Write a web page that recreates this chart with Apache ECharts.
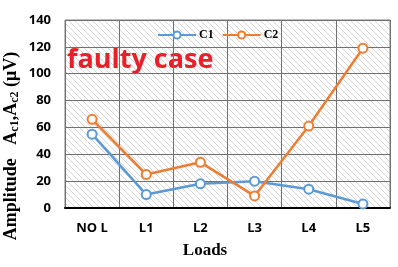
<!DOCTYPE html>
<html><head><meta charset="utf-8">
<script src="https://cdn.jsdelivr.net/npm/echarts@6/dist/echarts.min.js"></script>
<style>html,body{margin:0;padding:0;background:#fff}#c{width:398px;height:267px}</style>
</head><body><div id="c"></div>
<script>
const categories = ['NO L', 'L1', 'L2', 'L3', 'L4', 'L5'];
const c1Values = [55, 10, 18, 20, 14, 3];
const c2Values = [66, 25, 34, 9, 61, 119];
const yTicks = [0, 20, 40, 60, 80, 100, 120, 140];

const pc = document.createElement('canvas');
pc.width = 6; pc.height = 6;
const g = pc.getContext('2d');
g.fillStyle = '#ffffff'; g.fillRect(0,0,6,6);
g.strokeStyle = '#d6d6d6'; g.lineWidth = 1;
g.beginPath();
g.moveTo(-1,-1); g.lineTo(7,7);
g.moveTo(-4,2); g.lineTo(4,10);
g.moveTo(2,-4); g.lineTo(10,4);
g.stroke();

const chart = echarts.init(document.getElementById('c'));
const mk = (name, data, color) => ({
  name, type: 'line', data,
  symbol: 'circle', symbolSize: 9,
  lineStyle: {color, width: 2.5},
  itemStyle: {color: '#fff', borderColor: color, borderWidth: 2},
  z: 3
});
const serifBold = {fontFamily: 'Liberation Serif', fontWeight: 'bold', color: '#000'};
chart.setOption({
  animation: false,
  grid: {left: 65, right: 8, top: 20, bottom: 59, show: true,
    backgroundColor: {image: pc, repeat: 'repeat'}, borderColor: '#808080', borderWidth: 1},
  legend: {
    top: 24, left: 152, itemWidth: 38, itemHeight: 9, itemGap: 8,
    textStyle: Object.assign({fontSize: 12, padding: [0,0,0,-2]}, serifBold),
    data: ['C1', 'C2']
  },
  xAxis: {
    type: 'category', data: categories,
    axisLine: {lineStyle: {color: '#000', width: 2}},
    axisTick: {show: false},
    axisLabel: {fontFamily: 'Open Sans', fontWeight: 'bold', fontSize: 13, color: '#000', margin: 14},
    splitLine: {show: true, lineStyle: {color: '#707070', width: 1}}
  },
  yAxis: {
    type: 'value', min: 0, max: 140, interval: 20,
    axisLine: {show: false}, axisTick: {show: false},
    axisLabel: {fontFamily: 'Open Sans', fontWeight: 'bold', fontSize: 13, color: '#000', margin: 14,
      formatter: v => yTicks.includes(v) ? String(v) : ''},
    splitLine: {show: true, lineStyle: {color: '#707070', width: 1}}
  },
  graphic: [{
    type: 'text', left: 67, top: 47,
    style: {text: 'faulty case', fontFamily: 'Open Sans', fontWeight: 'bold', fontSize: 27, fill: '#e8202a'}
  }, {
    type: 'text', x: 205, y: 251,
    style: {text: 'Loads', fontSize: 17, align: 'center', verticalAlign: 'middle', fill: '#000', fontFamily: 'Liberation Serif', fontWeight: 'bold'}
  }, {
    type: 'text', x: 11, y: 146, rotation: Math.PI / 2,
    style: {
      text: '{a|Amplitude   A}{s|c1}{a|,A}{s|c2}{a| (μV)}',
      align: 'center', verticalAlign: 'middle',
      rich: {
        a: {fontFamily: 'Liberation Serif', fontWeight: 'bold', fontSize: 18, fill: '#000'},
        s: {fontFamily: 'Liberation Serif', fontWeight: 'bold', fontSize: 12, fill: '#000', padding: [7,0,0,0]}
      }
    }
  }],
  series: [mk('C1', c1Values, '#5b9bd5'), mk('C2', c2Values, '#ed7d31')]
});
</script></body></html>
